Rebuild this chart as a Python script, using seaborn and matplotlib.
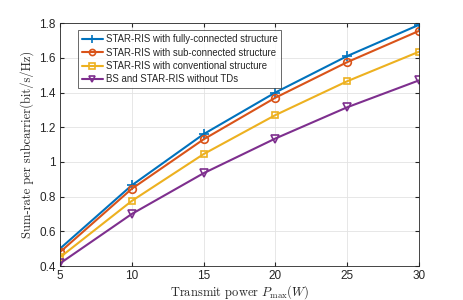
import pandas as pd
import numpy as np
import matplotlib.pyplot as plt
import seaborn as sns

# data
power = [5, 10, 15, 20, 25, 30]
fully = [0.50, 0.865, 1.160, 1.400, 1.610, 1.790]
sub = [0.48, 0.845, 1.130, 1.370, 1.575, 1.755]
conv = [0.45, 0.775, 1.045, 1.270, 1.465, 1.635]
no_td = [0.415, 0.700, 0.935, 1.135, 1.315, 1.470]

names = ['STAR-RIS with fully-connected structure',
         'STAR-RIS with sub-connected structure',
         'STAR-RIS with conventional structure',
         'BS and STAR-RIS without TDs']

df = pd.DataFrame({
    'P': power * 4,
    'rate': fully + sub + conv + no_td,
    'scheme': np.repeat(names, len(power)),
})

sns.set_style('white')
plt.rcParams['font.family'] = ['Liberation Sans', 'DejaVu Sans']
plt.rcParams['mathtext.fontset'] = 'cm'

colors = ['#0072BD', '#D95319', '#EDB120', '#7E2F8E']
markers = ['+', 'o', 's', 'v']
msizes = [7, 5.5, 5, 6]

fig = plt.figure(figsize=(4.64, 3.0), dpi=100)
ax = fig.add_axes([0.129, 0.113, 0.774, 0.81])

for name, c, m, ms in zip(names, colors, markers, msizes):
    sub_df = df[df['scheme'] == name]
    sns.lineplot(data=sub_df, x='P', y='rate', ax=ax, color=c, label=name,
                 linewidth=1.5, marker=m, markersize=ms,
                 markerfacecolor='none', markeredgecolor=c,
                 markeredgewidth=1.2)

ax.set_xlim(5, 30)
ax.set_ylim(0.4, 1.8)
ax.set_xticks([5, 10, 15, 20, 25, 30])
ax.set_yticks([0.4, 0.6, 0.8, 1.0, 1.2, 1.4, 1.6, 1.8])
ax.set_yticklabels(['0.4', '0.6', '0.8', '1', '1.2', '1.4', '1.6', '1.8'])
ax.grid(True, color='#e3e3e3', linewidth=0.6)
ax.tick_params(direction='in', length=3, labelsize=8.5, colors='#262626',
               top=True, right=True, bottom=True, left=True, pad=3)
for s in ax.spines.values():
    s.set_color('#262626')
    s.set_linewidth(0.6)

ax.set_xlabel(r'Transmit power $P_{\max}(W)$', fontfamily='cmr10', fontsize=9,
              labelpad=1)
ax.set_ylabel('Sum-rate per subcarrier(bit/s/Hz)', fontfamily='cmr10',
              fontsize=9, labelpad=4)

leg = ax.legend(loc='upper left', bbox_to_anchor=(0.05, 0.97),
                fontsize=6.9, frameon=True, fancybox=False, borderpad=0.4,
                labelspacing=0.35, handlelength=2.2, handletextpad=0.3,
                borderaxespad=0.0, markerscale=0.8)
leg.get_frame().set_edgecolor('#262626')
leg.get_frame().set_linewidth(0.6)

fig.savefig('out.png', dpi=100)
